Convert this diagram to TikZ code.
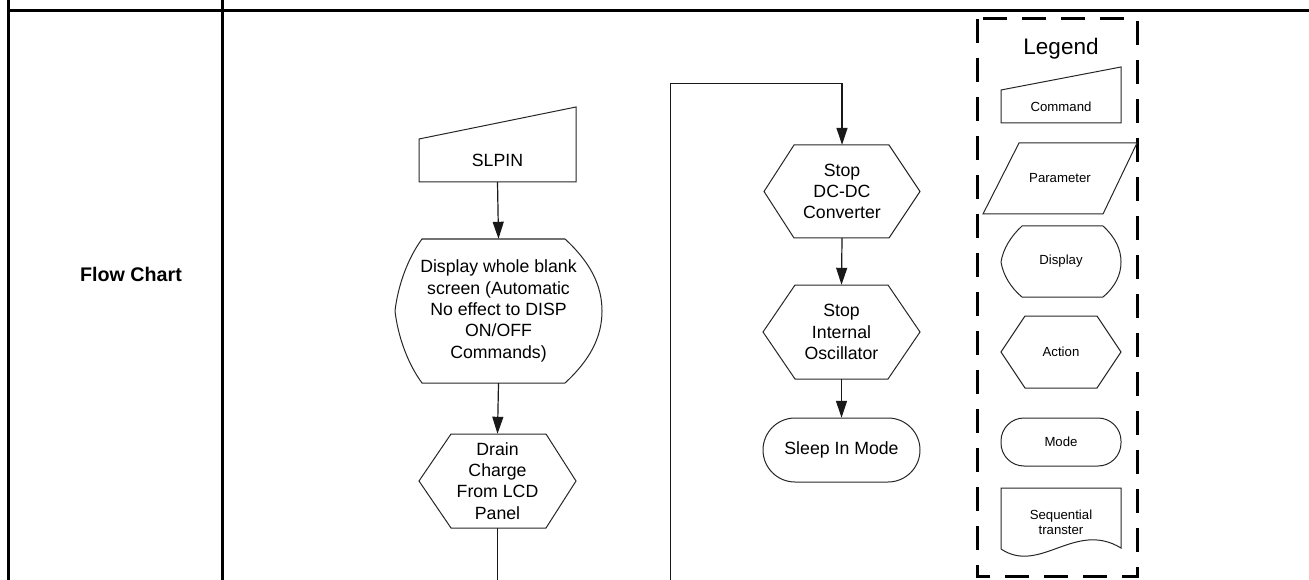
\documentclass[tikz,border=0pt]{standalone}
\usepackage{fontspec}
\setmainfont{Liberation Sans}
\usetikzlibrary{arrows.meta}
\begin{document}
\begin{tikzpicture}[x=1pt,y=-1pt,
  outline/.style={draw=black!85, line width=1pt},
  conn/.style={draw=black!90, line width=1.2pt},
  arr/.style={conn, -{Triangle[length=17pt,width=11pt]}},
  frame/.style={line width=3pt},
  legframe/.style={line width=3pt, dash pattern=on 24pt off 15pt},
  txt/.style={inner sep=0pt, align=center, font=\fontsize{17.7}{21.3}\selectfont},
  ltxt/.style={inner sep=0pt, align=center, font=\fontsize{13.2}{15.5}\selectfont},
  shp/.style={txt, minimum width=#1},
]
\useasboundingbox (0,0) rectangle (1309,580);
% table frame
\draw[frame] (7,11) -- (1309,11);
\draw[frame] (8,0) -- (8,580);
\draw[frame] (222,0) -- (222,580);
\node[inner sep=0pt, font=\bfseries\fontsize{19.7}{24}\selectfont] (title) at (131,274) {Flow Chart};

% main nodes (text holders sized to their outlines)
\node[txt, minimum width=157, minimum height=43] (slpin) at (497.5,160.5) {SLPIN};
\node[txt, minimum width=207, minimum height=144] (disp) at (498.5,311) {Display whole blank\\screen (Automatic\\No effect to DISP\\ON/OFF\\Commands)};
\node[txt, minimum width=157, minimum height=94] (drain) at (497.5,481) {Drain\\Charge\\From LCD\\Panel};
\node[txt, minimum width=156, minimum height=93] (dcdc) at (842,191.5) {Stop\\DC-DC\\Converter};
\node[txt, minimum width=157, minimum height=94] (osc) at (841.5,332) {Stop\\Internal\\Oscillator};
\node[txt, minimum width=157, minimum height=64] (sleep) at (841.5,450) {Sleep In Mode};

% outlines
\draw[outline] (419,182) -- (419,139) -- (576,107) -- (576,182) -- cycle;
\draw[outline] (422,239) -- (565,239) .. controls (590,262) and (602,285) .. (602,311)
  .. controls (602,337) and (590,360) .. (565,383) -- (422,383)
  .. controls (408,364) and (398,337) .. (395,311)
  .. controls (398,285) and (408,258) .. (422,239) -- cycle;
\draw[outline] (419,481) -- (451,434) -- (546,434) -- (576,481) -- (546,528) -- (451,528) -- cycle;
\draw[outline] (764,191.5) -- (794,145) -- (889,145) -- (920,191.5) -- (889,238) -- (794,238) -- cycle;
\draw[outline] (763,332) -- (795,285) -- (888,285) -- (920,332) -- (888,379) -- (795,379) -- cycle;
\draw[outline, rounded corners=32pt] (763,418) rectangle (920,482);

% connectors
\coordinate (drainEnd) at (497.5,580);
\coordinate (loopStart) at (670.7,580);
\coordinate (loopTop) at (670.7,83.3);
\draw[arr] (slpin.south) -- (disp.north);
\draw[arr] (disp.south) -- (drain.north);
\draw[conn] (drain.south) -- (drainEnd);
\draw[arr] (loopStart) -- (loopTop) -| (dcdc.north);
\draw[arr] (dcdc.south) -- (osc.north);
\draw[arr] (osc.south) -- (sleep.north);

% legend
\draw[legframe] (977,19) rectangle (1137,576);
\node[inner sep=0pt, anchor=base, font=\fontsize{22.5}{26}\selectfont] (legend) at (1061,54.5) {Legend};
\draw[outline] (1001,123) -- (1001,90) -- (1121,67) -- (1121,123) -- cycle;
\node[ltxt] (lcmd) at (1061,107) {Command};
\draw[outline] (1019,143) -- (1137,143) -- (1103,214) -- (983,214) -- cycle;
\node[ltxt] (lpar) at (1060,178) {Parameter};
\draw[outline] (1022,226) -- (1103,226) .. controls (1116,238) and (1121,250) .. (1121,262)
  .. controls (1121,274) and (1116,286) .. (1103,297) -- (1022,297)
  .. controls (1011,288) and (1003,275) .. (1001,262)
  .. controls (1003,249) and (1011,236) .. (1022,226) -- cycle;
\node[ltxt] (ldisp) at (1061,261.5) {Display};
\draw[outline] (1001,352) -- (1025,316) -- (1097,316) -- (1121,352) -- (1097,388) -- (1025,388) -- cycle;
\node[ltxt] (lact) at (1061,352) {Action};
\draw[outline, rounded corners=23pt] (1001,418) rectangle (1121,466);
\node[ltxt] (lmode) at (1061,442) {Mode};
\draw[outline] (1001,549) -- (1001,488) -- (1121,488) -- (1121,548)
  .. controls (1075,520) and (1040,575) .. (1001,549);
\node[ltxt] (lseq) at (1061,522.5) {Sequential\\transter};
\end{tikzpicture}
\end{document}
